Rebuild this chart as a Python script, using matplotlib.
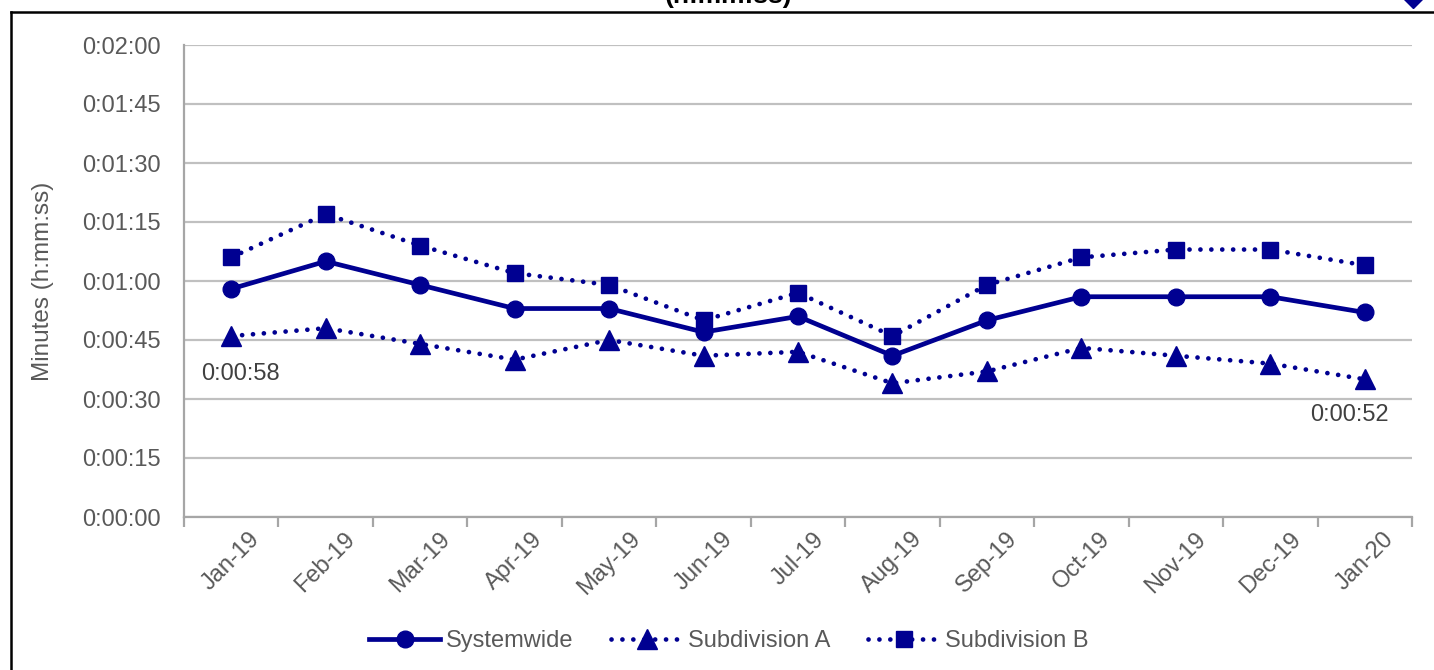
import matplotlib.pyplot as plt
from matplotlib.lines import Line2D
from matplotlib.ticker import FuncFormatter, FixedLocator

# Monthly values, in seconds
months = ["Jan-19", "Feb-19", "Mar-19", "Apr-19", "May-19", "Jun-19", "Jul-19",
          "Aug-19", "Sep-19", "Oct-19", "Nov-19", "Dec-19", "Jan-20"]
systemwide    = [58, 65, 59, 53, 53, 47, 51, 41, 50, 56, 56, 56, 52]
subdivision_a = [46, 48, 44, 40, 45, 41, 42, 34, 37, 43, 41, 39, 35]
subdivision_b = [66, 77, 69, 62, 59, 50, 57, 46, 59, 66, 68, 68, 64]

plt.rcParams['font.family'] = ['Liberation Sans', 'DejaVu Sans']

navy = '#000091'
grey_text = '#595959'
W, H = 1434, 670


def hms(v, pos=None):
    v = int(round(v))
    return "%d:%02d:%02d" % (v // 3600, (v % 3600) // 60, v % 60)


fig = plt.figure(figsize=(W / 100, H / 100), dpi=100)
ax = fig.add_axes([184 / W, 1 - 517 / H, (1412 - 184) / W, (517 - 45) / H])

x = list(range(len(months)))
dots = (0, (0.01, 2.3))
ax.plot(x, systemwide, color=navy, lw=3.4, marker='o', ms=12,
        label='Systemwide', zorder=4)
ax.plot(x, subdivision_a, color=navy, lw=3.4, ls=dots, dash_capstyle='round',
        marker='^', ms=14, label='Subdivision A', zorder=3)
ax.plot(x, subdivision_b, color=navy, lw=3.4, ls=dots, dash_capstyle='round',
        marker='s', ms=11, label='Subdivision B', zorder=3)

# Axes and grid
ax.set_xlim(-0.5, len(months) - 0.5)
ax.set_ylim(0, 120)
ax.yaxis.set_major_locator(FixedLocator(range(0, 121, 15)))
ax.yaxis.set_major_formatter(FuncFormatter(hms))
ax.grid(axis='y', color='#c0c0c0', lw=1.6)
ax.set_axisbelow(True)
for side in ('top', 'right'):
    ax.spines[side].set_visible(False)
for side in ('left', 'bottom'):
    ax.spines[side].set_color('#a6a6a6')
    ax.spines[side].set_linewidth(1.6)

ax.set_xticks(x)
ax.set_xticklabels(months, rotation=45, ha='center', va='top')
ax.set_xticks([i - 0.5 for i in range(len(months) + 1)], minor=True)
ax.tick_params(axis='x', which='major', length=0, pad=8,
               labelsize=17, labelcolor=grey_text)
ax.tick_params(axis='x', which='minor', length=7, width=1.6, color='#a6a6a6')
ax.tick_params(axis='y', length=0, pad=17, labelsize=17, labelcolor=grey_text)
ax.set_ylabel('Minutes (h:mm:ss)', fontsize=17.5, color=grey_text, labelpad=20)

# Value labels for the first and last systemwide points
ax.annotate(hms(systemwide[0]), (0, systemwide[0]), xytext=(9, -85),
            textcoords='offset pixels', ha='center', va='center',
            fontsize=17, color='#404040')
ax.annotate(hms(systemwide[-1]), (12, systemwide[-1]), xytext=(-15, -103),
            textcoords='offset pixels', ha='center', va='center',
            fontsize=17, color='#404040')

ax.legend(loc='center', bbox_to_anchor=(729 / W, 1 - 641 / H),
          bbox_transform=fig.transFigure, ncol=3, frameon=False,
          fontsize=17, labelcolor=grey_text, handlelength=3.0,
          handletextpad=0.25, columnspacing=1.6)

# Title (upper part runs off the top)
fig.text(728 / W, 1 - 3 / H, '(h:mm:ss)', ha='center', va='baseline',
         fontsize=19, fontweight='bold', color='black')

# Outer frame and corner marker
fig.add_artist(Line2D([11 / W, 11 / W], [1 - 12 / H, -0.1], color='black',
                      lw=1.8, transform=fig.transFigure))
fig.add_artist(Line2D([11 / W, 1.1], [1 - 12 / H, 1 - 12 / H], color='black',
                      lw=1.8, transform=fig.transFigure))
fig.add_artist(Line2D([1413 / W], [1 + 2 / H], marker='D', ms=10, color=navy,
                      transform=fig.transFigure, clip_on=False))

fig.savefig('out.png', dpi=100, facecolor='white')
